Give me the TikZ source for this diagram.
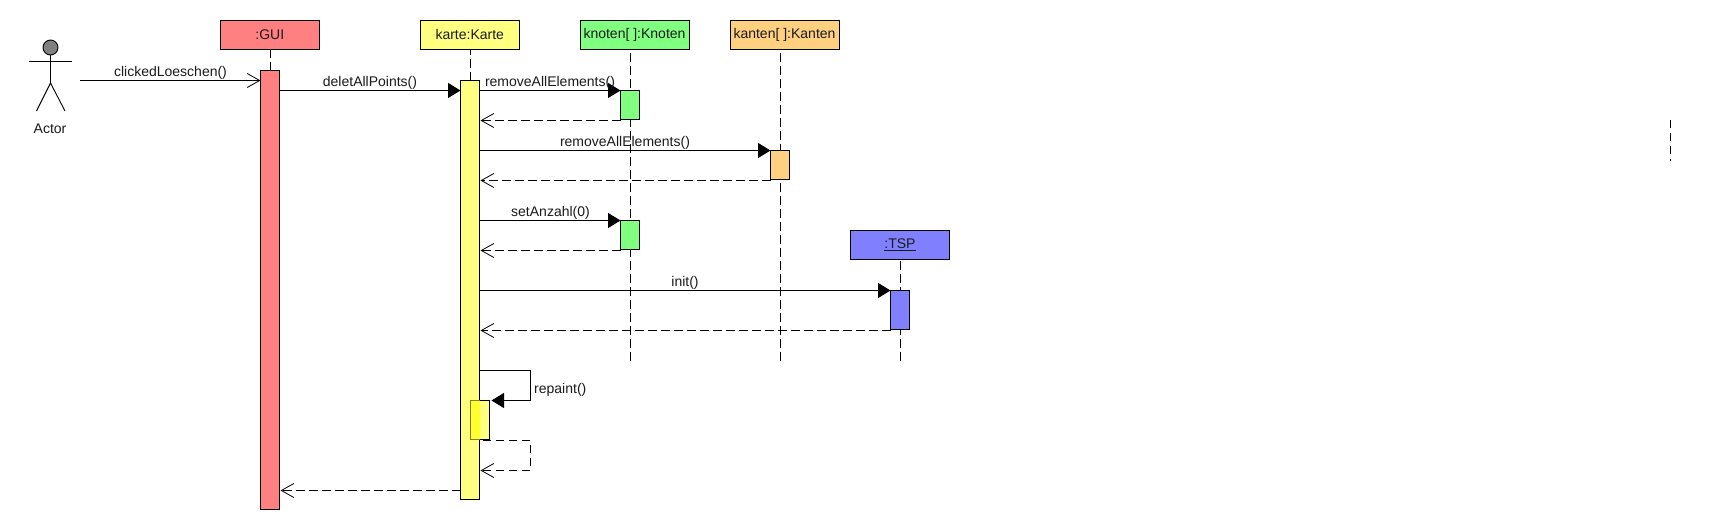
\documentclass[tikz,border=0pt]{standalone}
\usepackage{fontspec}
\setmainfont{Liberation Sans}
\usetikzlibrary{arrows.meta,calc}
\pgfdeclarelayer{lifelayer}
\pgfsetlayers{lifelayer,main}
\definecolor{cgui}{HTML}{FF8080}
\definecolor{ckarte}{HTML}{FFFF80}
\definecolor{cknoten}{HTML}{80FF80}
\definecolor{ckanten}{HTML}{FFD080}
\definecolor{ctsp}{HTML}{8080FF}
\definecolor{chead}{HTML}{808080}
\definecolor{coverlap}{HTML}{FFFF30}
\definecolor{cedge}{HTML}{808020}
\definecolor{txt}{HTML}{1A1A1A}
\newcommand{\boxtext}[1]{\raisebox{.7pt}{#1}}
\tikzset{
  every node/.style={font=\fontsize{14}{16}\selectfont,text=txt},
  block/.style={draw=black,line width=1pt,inner sep=0pt,outer sep=0pt,anchor=north west},
  objbox/.style={block,minimum width=#1,minimum height=29pt},
  actbox/.style 2 args={block,minimum width=#1,minimum height=#2},
  life/.style={line width=1pt,dash pattern=on 8.3pt off 4.7pt},
  sync/.style={line width=1pt,-{Triangle[length=12.5pt,width=15pt]}},
  open/.style={line width=1pt,-{Straight Barb[length=12.5pt,width=14pt,line width=.8pt]}},
  found/.style={open},
  ret/.style={open,dash pattern=on 8.3pt off 4.7pt,shorten >=1pt},
  lbl/.style={inner sep=0pt,anchor=base},
  figure/.style={line width=.9pt}
}
\begin{document}
\begin{tikzpicture}[x=1pt,y=-1pt]
\useasboundingbox (0,0) rectangle (1710,530);

% objects
\node[objbox=99.5pt,fill=cgui] (gui) at (220,20.5) {\boxtext{:GUI}};
\node[objbox=99.5pt,fill=ckarte] (karte) at (420,20.5) {\boxtext{karte:Karte}};
\node[objbox=109pt,fill=cknoten] (knoten) at (580,20.5) {\boxtext{knoten[ ]:Knoten}};
\node[objbox=109pt,fill=ckanten] (kanten) at (730,20.5) {\boxtext{kanten[ ]:Kanten}};
\node[objbox=99pt,fill=ctsp] (tsp) at (850.5,230.5) {\boxtext{\underline{:TSP}}};

% activations
\node[actbox={19pt}{439pt},fill=cgui] (guiact) at (260.5,70.5) {};
\node[actbox={19pt}{419pt},fill=ckarte] (karteact) at (460.5,80.5) {};
\node[actbox={19pt}{29pt},fill=cknoten] (knotenactA) at (620.5,90.5) {};
\node[actbox={19pt}{29pt},fill=cknoten] (knotenactB) at (620.5,220.5) {};
\node[actbox={19pt}{29pt},fill=ckanten] (kantenact) at (770.5,150.5) {};
\node[actbox={19pt}{39pt},fill=ctsp] (tspact) at (890.5,290.5) {};

% lifeline ends
\coordinate (knotenend) at (knotenactA |- 0,360.7);
\coordinate (kantenend) at (kantenact |- 0,360.7);
\coordinate (tspend) at (tspact |- 0,360.7);
\coordinate (strayA) at (1670.5,120);
\coordinate (strayB) at (1670.5,160.7);

% lifelines, behind the activations
\begin{pgfonlayer}{lifelayer}
\fill[white] (0,0) rectangle (1710,530);
\draw[life] (guiact.north) -- (guiact |- gui.south);
\draw[life] (karteact.north) -- (karteact |- karte.south);
\draw[life] (knotenend) -- (knotenactA |- knoten.south);
\draw[life] (kantenend) -- (kantenact |- kanten.south);
\draw[life] (tspend) -- (tspact |- tsp.south);
\draw[life] (strayA) -- (strayB);
\end{pgfonlayer}

% self-call activation
\node[actbox={19pt}{39pt},draw=none,fill=ckarte] (selfact) at (470,400.5) {};
\fill[coverlap] (selfact.north west) rectangle (selfact.south -| karteact.east);
\draw[cedge,line width=1pt] (selfact.north -| karteact.east) -- (selfact.north west) -- (selfact.south west) -- (selfact.south -| karteact.east);
\draw[line width=1pt] (selfact.north -| karteact.east) -- (selfact.north east) -- (selfact.south east) -- (selfact.south -| karteact.east);

% actor
\node[draw=black,line width=.9pt,fill=chead,circle,minimum size=15pt,inner sep=0pt] (head) at (50.5,47.5) {};
\coordinate (shoulderL) at (29,61.5);
\coordinate (shoulderR) at (72,61.5);
\coordinate (hip) at (50.5,83);
\coordinate (footL) at (36.5,111);
\coordinate (footR) at (65,111);
\draw[figure] (head.south) -- (hip);
\draw[figure] (shoulderL) -- (shoulderR);
\draw[figure] (footL) -- (hip) -- (footR);
\node[lbl] (actor) at (50,133) {Actor};

% messages
\coordinate (m1) at (80,80.5);
\draw[found] (m1) -- (m1 -| guiact.west);
\node[lbl] (l1) at (170.5,76) {clickedLoeschen()};

\coordinate (m2) at (280,90.5);
\draw[sync] (m2 -| guiact.east) -- (m2 -| karteact.west);
\node[lbl] (l2) at (370,86) {deletAllPoints()};

\coordinate (m3) at (480,90.5);
\draw[sync] (m3 -| karteact.east) -- (m3 -| knotenactA.west);
\node[lbl] (l3) at (550,86) {removeAllElements()};

\coordinate (m4) at (621,120.5);
\draw[ret] (m4 -| knotenactA.west) -- (m4 -| karteact.east);

\coordinate (m5) at (480,150.5);
\draw[sync] (m5 -| karteact.east) -- (m5 -| kantenact.west);
\node[lbl] (l5) at (625,146) {removeAllElements()};

\coordinate (m6) at (771,180.5);
\draw[ret] (m6 -| kantenact.west) -- (m6 -| karteact.east);

\coordinate (m7) at (480,220.5);
\draw[sync] (m7 -| karteact.east) -- (m7 -| knotenactB.west);
\node[lbl] (l7) at (550.5,216) {setAnzahl(0)};

\coordinate (m8) at (621,250.5);
\draw[ret] (m8 -| knotenactB.west) -- (m8 -| karteact.east);

\coordinate (m9) at (480,290.5);
\draw[sync] (m9 -| karteact.east) -- (m9 -| tspact.west);
\node[lbl] (l9) at (685,286) {init()};

\coordinate (m10) at (891,330.5);
\draw[ret] (m10 -| tspact.west) -- (m10 -| karteact.east);

\coordinate (selftop) at (530.5,370.5);
\coordinate (selfmid) at (530.5,400.5);
\draw[sync,shorten >=2.5pt] (selftop -| karteact.east) -- (selftop) -- (selfmid) -- (selfmid -| selfact.east);
\node[lbl,anchor=base west] (l11) at (534,393) {repaint()};

\coordinate (selfret) at (530.5,440.5);
\coordinate (selfretend) at (530.5,470.5);
\draw[ret] (483,440.5) -- (selfret) -- (selfretend) -- (selfretend -| karteact.east);

\coordinate (m12) at (461,490.5);
\draw[ret] (m12 -| karteact.west) -- (m12 -| guiact.east);
\end{tikzpicture}
\end{document}
